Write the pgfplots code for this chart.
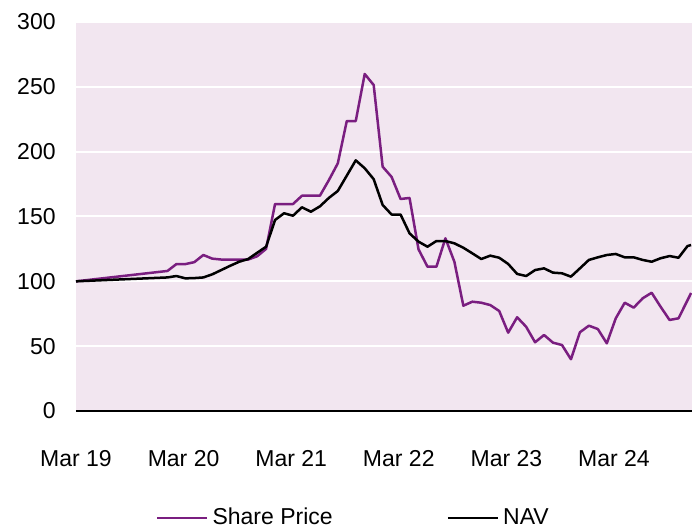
\documentclass[border=0pt]{standalone}
\usepackage{fontspec}
\setmainfont{Liberation Sans}
\usepackage{pgfplots}
\pgfplotsset{compat=1.18}
\definecolor{sppurple}{RGB}{122,30,128}
\definecolor{bgpink}{RGB}{242,230,240}
\begin{document}
\begin{tikzpicture}
\begin{axis}[
  at={(0,0)}, anchor=south west,
  scale only axis,
  width=308pt, height=194.5pt,
  xmin=0, xmax=68.7, ymin=0, ymax=300,
  ytick={0,50,...,300},
  xtick={0,12,24,36,48,60},
  xticklabels={Mar 19,Mar 20,Mar 21,Mar 22,Mar 23,Mar 24},
  /pgf/number format/assume math mode=true,
  axis background/.style={fill=bgpink},
  ymajorgrids, grid style={white, line width=1pt},
  axis x line*=bottom, axis y line*=left,
  axis line style={-},
  y axis line style={draw=none},
  x axis line style={black, line width=0.8pt},
  major tick length=0pt,
  tick style={draw=none},
  every tick label/.append style={font=\fontsize{11.5}{13.8}\selectfont},
  yticklabel style={anchor=east, inner sep=0pt, xshift=-10pt},
  xticklabel style={anchor=north, inner sep=0pt, yshift=-19.5pt},
  legend style={at={(0.452,-0.275)}, anchor=center, draw=none, fill=none,
    font=\fontsize{11.5}{13.8}\selectfont, legend columns=2,
    /tikz/every even column/.append style={column sep=55pt}},
  legend image code/.code={\draw[#1] (0pt,0pt) -- (25pt,0pt);},
  legend cell align=left,
]
\addplot[sppurple, line width=1.25pt, line join=round] coordinates {
(0,100) (10.2,108) (11.2,113.3) (12.2,113.3) (13.2,114.8) (14.2,120.3) (15.2,117.5)
(16.2,116.8) (17.2,116.8) (18.2,116.8) (19.2,116.8) (20.2,119.3) (21.2,125)
(22.2,159.6) (23.2,159.6) (24.2,159.6) (25.2,166) (26.2,166) (27.2,166) (28.2,178)
(29.2,191) (30.2,223.6) (31.2,223.6) (32.2,259.9) (33.2,251.4) (34.2,188.4)
(35.2,180.5) (36.2,163.5) (37.2,164.3) (38.2,124.7) (39.2,111.3) (40.2,111.3)
(41.2,133.2) (42.2,115.1) (43.2,81.2) (44.2,84.3) (45.2,83.5) (46.2,81.7) (47.2,77.1)
(48.2,60.4) (49.2,72.3) (50.2,65) (51.2,53) (52.2,58.6) (53.2,52.7) (54.2,50.9)
(55.2,39.9) (56.2,60.7) (57.2,65.8) (58.2,63.2) (59.2,52.2) (60.2,71.5) (61.2,83.5)
(62.2,79.7) (63.2,86.9) (64.2,91.2) (65.2,80.4) (66.2,70.2) (67.2,71.5) (68.6,91)
};
\addlegendentry{Share Price}
\addplot[black, line width=1.25pt, line join=round] coordinates {
(0,100) (10.2,103) (11.2,104.1) (12.2,102.3) (13.2,102.5) (14.2,103) (15.2,105.4)
(16.2,108.7) (17.2,112) (18.2,115.1) (19.2,117.2) (20.2,122) (21.2,126.7)
(22.2,147.3) (23.2,152.5) (24.2,150.6) (25.2,157.1) (26.2,153.7) (27.2,157.8)
(28.2,164.3) (29.2,169.7) (30.2,181.5) (31.2,193.3) (32.2,187.2) (33.2,178.8)
(34.2,158.9) (35.2,151.5) (36.2,151.5) (37.2,137) (38.2,130.6) (39.2,126.7)
(40.2,131.1) (41.2,131.1) (42.2,129.3) (43.2,125.9) (44.2,121.6) (45.2,117.2)
(46.2,119.8) (47.2,118.2) (48.2,113.4) (49.2,105.7) (50.2,104.1) (51.2,108.7)
(52.2,110) (53.2,106.7) (54.2,106.2) (55.2,103.6) (56.2,110) (57.2,116.5)
(58.2,118.5) (59.2,120.3) (60.2,121.1) (61.2,118.5) (62.2,118.5) (63.2,116.5)
(64.2,115.1) (65.2,117.8) (66.2,119.5) (67.2,118.2) (68.2,127.2) (68.6,128)
};
\addlegendentry{NAV}
\end{axis}
\pgfresetboundingbox
\path[use as bounding box] (-38pt,-59pt) rectangle (308pt,205.5pt);
\end{tikzpicture}
\end{document}
